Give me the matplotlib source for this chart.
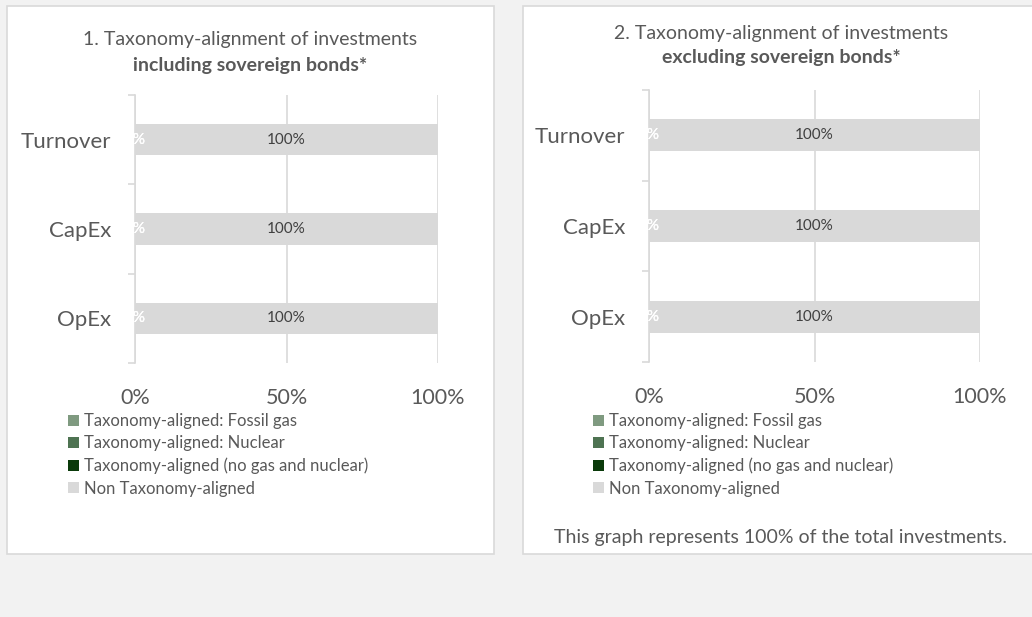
import matplotlib
matplotlib.use("Agg")
import matplotlib.pyplot as plt
from matplotlib.patches import Rectangle

plt.rcParams["font.family"] = ["Lato", "DejaVu Sans"]

categories = ["Turnover", "CapEx", "OpEx"]
series_labels = [
    "Taxonomy-aligned: Fossil gas",
    "Taxonomy-aligned: Nuclear",
    "Taxonomy-aligned (no gas and nuclear)",
    "Non Taxonomy-aligned",
]
series_colors = ["#7F9A80", "#4E7352", "#0A3A0A", "#D9D9D9"]

# chart 1: including sovereign bonds
incl_fossil = [0, 0, 0]
incl_nuclear = [0, 0, 0]
incl_aligned = [0, 0, 0]
incl_non = [100, 100, 100]

# chart 2: excluding sovereign bonds
excl_fossil = [0, 0, 0]
excl_nuclear = [0, 0, 0]
excl_aligned = [0, 0, 0]
excl_non = [100, 100, 100]

x_ticks = [0, 50, 100]
x_ticklabels = ["0%", "50%", "100%"]

TEXT = "#595959"
GRID = "#D9D9D9"
W, H = 1032, 617


def fx(px):
    return px / W


def fy(py):
    return 1 - py / H


fig = plt.figure(figsize=(W / 100, H / 100), dpi=100, facecolor="#F2F2F2")

# white panels behind the charts
for x0, x1 in [(7, 494), (523, 1039)]:
    fig.patches.append(Rectangle((fx(x0), fy(554)), fx(x1 - x0), (554 - 6) / H,
                                 transform=fig.transFigure, facecolor="white",
                                 edgecolor=GRID, linewidth=1.2, zorder=-5))


def draw(ax, values, cx, title1, title2, t1y, t2y, leg_x, leg_y):
    left = [0, 0, 0]
    bars = []
    for vals, color, label in zip(values, series_colors, series_labels):
        b = ax.barh(categories, vals, left=left, height=0.35, color=color,
                    label=label, zorder=2)
        bars.append(b)
        txtcol = "#404040" if color == GRID else "white"
        ax.bar_label(b, labels=[f"{v:g}%" for v in vals], label_type="center",
                     color=txtcol, fontsize=11, zorder=3)
        left = [l + v for l, v in zip(left, vals)]

    ax.set_xlim(0, 100)
    ax.set_ylim(2.5, -0.5)
    ax.set_xticks(x_ticks)
    ax.set_xticklabels(x_ticklabels)
    ax.tick_params(axis="x", length=0, pad=18, labelsize=15.5, labelcolor=TEXT)
    ax.tick_params(axis="y", which="major", length=0, pad=17, labelsize=16,
                   labelcolor=TEXT)
    ax.set_yticks([-0.5, 0.5, 1.5, 2.5], minor=True)
    ax.tick_params(axis="y", which="minor", length=5, color=GRID, width=1.2)
    for s in ["top", "right", "bottom"]:
        ax.spines[s].set_visible(False)
    ax.spines["left"].set_color(GRID)
    ax.spines["left"].set_linewidth(1.2)
    ax.grid(axis="x", color=GRID, linewidth=1.2, zorder=1)
    ax.set_axisbelow(True)
    ax.set_facecolor("none")

    fig.text(fx(cx), fy(t1y), title1, ha="center", va="center", fontsize=14,
             color=TEXT)
    fig.text(fx(cx), fy(t2y), title2, ha="center", va="center", fontsize=14,
             color=TEXT, fontweight="bold")

    ax.legend(handles=bars, loc="upper left",
              bbox_to_anchor=(fx(leg_x), fy(leg_y)),
              bbox_transform=fig.transFigure, frameon=False, fontsize=12,
              labelcolor=TEXT, handlelength=0.65, handleheight=0.65,
              handletextpad=0.3, labelspacing=0.38, borderpad=0, borderaxespad=0)


ax1 = fig.add_axes([fx(135), fy(363), fx(438 - 135), (363 - 95) / H])
draw(ax1, [incl_fossil, incl_nuclear, incl_aligned, incl_non], 250,
     "1. Taxonomy-alignment of investments", "including sovereign bonds*",
     39, 66, 68, 413)

ax2 = fig.add_axes([fx(649), fy(362), fx(980 - 649), (362 - 90) / H])
draw(ax2, [excl_fossil, excl_nuclear, excl_aligned, excl_non], 781,
     "2. Taxonomy-alignment of investments", "excluding sovereign bonds*",
     33, 57, 593, 413)

fig.text(fx(781), fy(537), "This graph represents 100% of the total investments.",
         ha="center", va="center", fontsize=14, color=TEXT)

fig.savefig("out.png", dpi=100, facecolor=fig.get_facecolor())
